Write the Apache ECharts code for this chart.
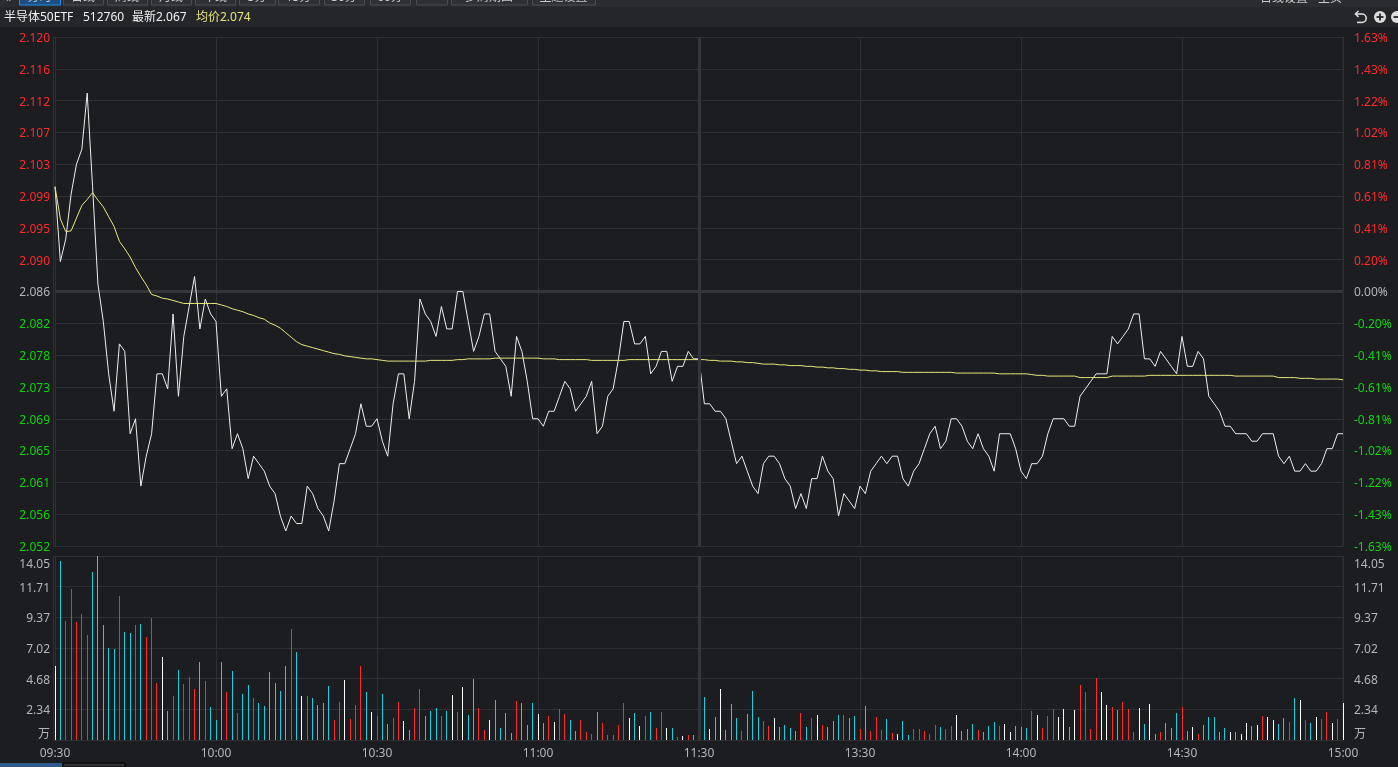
<!DOCTYPE html>
<html>
<head>
<meta charset="utf-8">
<title>半导体50ETF 分时</title>
<script src="https://cdn.jsdelivr.net/npm/echarts@6/dist/echarts.min.js"></script>
<style>
html,body{margin:0;padding:0;background:#1c1d21;overflow:hidden;}
#main{width:1398px;height:767px;}
</style>
</head>
<body>
<div id="main"></div>
<script>
//============================ 数据 =======================================
// 每分钟价格，09:30 - 15:00，共241个点
var price = [
	2.100,2.090,2.093,2.099,2.103,2.105,2.1125,2.100,2.087,2.082,
	2.075,2.070,2.079,2.078,2.067,2.069,2.060,2.064,2.067,2.075,
	2.075,2.073,2.083,2.072,2.080,2.084,2.088,2.081,2.085,2.083,
	2.082,2.072,2.073,2.065,2.067,2.065,2.061,2.064,2.063,2.062,
	2.060,2.059,2.056,2.054,2.056,2.055,2.055,2.060,2.059,2.057,
	2.056,2.054,2.058,2.063,2.063,2.065,2.067,2.071,2.068,2.068,
	2.069,2.066,2.064,2.071,2.075,2.075,2.069,2.074,2.085,2.083,
	2.082,2.080,2.084,2.081,2.081,2.086,2.086,2.082,2.078,2.080,
	2.083,2.083,2.078,2.077,2.076,2.072,2.080,2.078,2.074,2.069,
	2.069,2.068,2.070,2.070,2.072,2.074,2.073,2.070,2.071,2.072,
	2.074,2.067,2.068,2.072,2.073,2.077,2.082,2.082,2.079,2.079,
	2.080,2.075,2.076,2.078,2.078,2.074,2.076,2.076,2.078,2.077,
	2.077,2.071,2.071,2.070,2.070,2.069,2.066,2.063,2.064,2.062,
	2.060,2.059,2.063,2.064,2.064,2.063,2.061,2.060,2.057,2.059,
	2.057,2.061,2.061,2.064,2.062,2.061,2.056,2.059,2.058,2.057,
	2.060,2.059,2.062,2.063,2.064,2.063,2.064,2.064,2.061,2.060,
	2.062,2.063,2.065,2.067,2.068,2.065,2.066,2.069,2.069,2.068,
	2.066,2.065,2.067,2.065,2.064,2.062,2.067,2.067,2.067,2.065,
	2.062,2.061,2.063,2.063,2.064,2.067,2.069,2.069,2.069,2.068,
	2.068,2.072,2.073,2.074,2.075,2.075,2.075,2.080,2.079,2.080,
	2.081,2.083,2.083,2.077,2.077,2.076,2.078,2.077,2.076,2.075,
	2.080,2.076,2.076,2.078,2.077,2.072,2.071,2.070,2.068,2.068,
	2.067,2.067,2.067,2.066,2.066,2.067,2.067,2.067,2.064,2.063,
	2.064,2.062,2.062,2.063,2.062,2.062,2.063,2.065,2.065,2.067,
	2.067
];
// 均价
var avgPrice = [
	2.1000,2.0957,2.0940,2.0941,2.0958,2.0975,2.0983,2.0992,2.0982,2.0973,
	2.0960,2.0947,2.0927,2.0917,2.0906,2.0892,2.0880,2.0869,2.0856,2.0854,
	2.0851,2.0850,2.0848,2.0846,2.0844,2.0844,2.0844,2.0844,2.0844,2.0844,
	2.0844,2.0842,2.0840,2.0837,2.0835,2.0833,2.0830,2.0828,2.0825,2.0823,
	2.0818,2.0815,2.0811,2.0805,2.0799,2.0793,2.0789,2.0787,2.0785,2.0783,
	2.0781,2.0779,2.0777,2.0776,2.0774,2.0773,2.0772,2.0771,2.0770,2.0770,
	2.0769,2.0768,2.0767,2.0767,2.0767,2.0767,2.0767,2.0767,2.0767,2.0767,
	2.0768,2.0768,2.0768,2.0768,2.0768,2.0769,2.0769,2.0770,2.0770,2.0770,
	2.0770,2.0770,2.0771,2.0771,2.0771,2.0771,2.0771,2.0771,2.0771,2.0771,
	2.0771,2.0770,2.0770,2.0770,2.0769,2.0769,2.0769,2.0769,2.0769,2.0769,
	2.0768,2.0768,2.0768,2.0768,2.0768,2.0768,2.0768,2.0769,2.0769,2.0769,
	2.0769,2.0769,2.0769,2.0769,2.0769,2.0769,2.0769,2.0769,2.0769,2.0769,
	2.0769,2.0769,2.0768,2.0768,2.0767,2.0767,2.0767,2.0766,2.0766,2.0765,
	2.0765,2.0764,2.0763,2.0763,2.0763,2.0762,2.0762,2.0761,2.0761,2.0761,
	2.0760,2.0760,2.0759,2.0759,2.0758,2.0758,2.0757,2.0757,2.0756,2.0756,
	2.0755,2.0755,2.0754,2.0754,2.0753,2.0753,2.0753,2.0753,2.0752,2.0752,
	2.0752,2.0752,2.0752,2.0752,2.0752,2.0752,2.0752,2.0752,2.0751,2.0751,
	2.0751,2.0751,2.0751,2.0751,2.0751,2.0751,2.0750,2.0750,2.0750,2.0750,
	2.0750,2.0750,2.0749,2.0748,2.0748,2.0747,2.0747,2.0747,2.0747,2.0747,
	2.0747,2.0745,2.0745,2.0745,2.0745,2.0745,2.0745,2.0747,2.0747,2.0747,
	2.0747,2.0747,2.0747,2.0747,2.0748,2.0748,2.0748,2.0748,2.0748,2.0748,
	2.0748,2.0748,2.0748,2.0748,2.0748,2.0748,2.0748,2.0748,2.0748,2.0748,
	2.0747,2.0747,2.0747,2.0747,2.0747,2.0747,2.0747,2.0747,2.0745,2.0745,
	2.0745,2.0745,2.0744,2.0744,2.0744,2.0743,2.0743,2.0743,2.0743,2.0743,
	2.0742
];
// 成交量（万）
var volume = [
	5.65,13.67,9.09,11.50,9.01,9.62,8.02,12.83,14.05,8.78,
	7.02,6.95,11.00,8.25,8.17,8.78,8.86,7.86,9.32,4.35,
	6.34,2.21,3.36,5.34,4.28,4.81,3.89,5.96,4.50,2.52,
	1.53,5.96,3.66,5.27,2.06,3.51,4.20,3.21,2.83,2.60,
	5.19,4.35,3.74,5.65,8.48,6.72,3.36,3.36,3.21,2.67,
	2.83,4.12,1.53,2.90,4.58,1.60,2.67,5.65,3.66,2.14,
	1.83,3.51,1.22,1.68,2.90,1.45,0.76,2.44,3.89,1.83,
	2.21,2.44,1.83,2.21,3.44,2.14,4.05,1.91,4.66,2.44,
	0.76,1.53,3.05,0.92,2.06,0.53,2.98,2.82,1.15,2.82,
	1.98,1.30,1.83,1.37,2.37,1.98,1.53,0.69,1.53,0.61,
	0.46,2.14,1.30,0.38,0.38,1.15,2.82,1.68,2.06,1.07,
	1.83,2.14,0.92,2.14,0.92,0.92,0.23,0.31,0.38,0.38,
	0.46,3.28,0.84,1.76,3.89,0.76,2.75,1.68,0.69,1.98,
	3.74,1.76,1.45,1.07,1.68,0.99,1.15,0.92,0.69,2.06,
	0.99,1.68,1.91,1.15,0.99,1.45,1.91,1.91,1.68,1.83,
	0.84,2.60,0.69,1.76,0.76,1.60,0.53,0.46,1.45,0.38,
	0.84,0.84,0.69,0.46,1.15,0.99,0.84,1.07,1.91,0.69,
	0.84,1.22,0.76,0.61,1.07,1.37,1.07,1.22,0.61,1.07,
	0.99,0.92,2.21,1.91,0.92,1.83,2.37,1.76,2.37,0.99,
	2.29,4.20,3.66,0.84,4.73,3.66,2.67,2.52,2.29,2.90,
	2.37,0.61,2.44,1.22,2.75,0.46,0.61,1.30,0.92,2.06,
	2.52,0.69,0.99,0.46,1.15,1.76,1.76,0.61,0.92,0.61,
	0.61,0.46,1.30,1.07,1.15,1.83,1.76,1.53,1.22,1.68,
	1.37,3.21,3.05,1.53,1.30,1.76,1.60,2.14,1.30,1.60,
	2.82
];
var timeLabels = ['09:30','10:00','10:30','11:00','11:30','13:30','14:00','14:30','15:00'];
var preClose = 2.086;
var priceTicks = [2.052,2.05625,2.0605,2.06475,2.069,2.07325,2.0775,2.08175,2.086,2.09025,2.0945,2.09875,2.103,2.10725,2.1115,2.11575,2.12];
var priceLabels = ['2.052','2.056','2.061','2.065','2.069','2.073','2.078','2.082','2.086','2.090','2.095','2.099','2.103','2.107','2.112','2.116','2.120'];
var pctLabels = ['-1.63%','-1.43%','-1.22%','-1.02%','-0.81%','-0.61%','-0.41%','-0.20%','0.00%','0.20%','0.41%','0.61%','0.81%','1.02%','1.22%','1.43%','1.63%'];
var volTicks = [0,2.34,4.68,7.02,9.37,11.71,14.05];
// “万”不在网格线上，单独放一个标签值
var volLabelTicks = [0.5,2.34,4.68,7.02,9.37,11.71,14.05];
var volLabels = ['万','2.34','4.68','7.02','9.37','11.71','14.05'];
// 顶部按钮（只露出下沿）
var toolButtons = [
	['分时',19,41],['日线',63,40],['周线',107,40],['月线',151,40],['年线',195,40],['5分',239,36],
	['15分',278,41],['30分',324,40],['60分',370,40],['',416,31],['多周期图',451,76],['主题设置',532,63]
];

//============================ 颜色 =======================================
var BG = '#1c1d21', BAR1 = '#2b2c30', BAR2 = '#25262a', GRID = '#2f3035', AXIS = '#b3b5ba';
var RED = '#ff2b2b', GREEN = '#0bd60b', CYAN = '#14d0e0', FONT = '"Noto Sans","Noto Sans CJK SC",sans-serif';

var times = [];
var preLine = [];
var volData = [];
for (var i = 0; i < price.length; i++) {
	times.push(i % 30 === 0 ? timeLabels[i / 30] : 't' + i);
	preLine.push(preClose);
	volData.push([i, volume[i]]);
}
function isTick(index) {
	return index % 30 === 0;
}
function barColor(index) {
	if (index === 0 || price[index] === price[index - 1]) return '#ffffff';
	return price[index] > price[index - 1] ? RED : CYAN;
}
function priceColor(value) {
	var v = parseFloat(value);
	if (Math.abs(v - preClose) < 1e-6) return AXIS;
	return v > preClose ? RED : GREEN;
}
// 成交量柱：1像素宽，对齐到整像素
function renderVolBar(params, api) {
	var top = api.coord([api.value(0), api.value(1)]);
	var base = api.coord([api.value(0), 0]);
	return {
		type: 'rect',
		shape: {x: Math.floor(top[0]), y: Math.round(top[1]), width: 1, height: Math.round(base[1]) - Math.round(top[1])},
		style: {fill: barColor(params.dataIndex)}
	};
}

//============================ 顶部条、底部标签 =============================
var iconLine = {fill:'none', stroke:'#dddddd', lineWidth:1.6};
var iconDark = {fill:'none', stroke:BAR2, lineWidth:1.8};
var graphics = [
	{type:'rect', silent:true, z:-1, shape:{x:0,y:0,width:1398,height:7}, style:{fill:BAR1}},
	{type:'rect', silent:true, z:-1, shape:{x:0,y:7,width:1398,height:20}, style:{fill:BAR2}},
	{type:'rect', silent:true, z:-1, shape:{x:53.5,y:37.5,width:1289.5,height:509}, style:{fill:'none',stroke:GRID,lineWidth:1}},
	{type:'rect', silent:true, z:-1, shape:{x:53.5,y:556.5,width:1289.5,height:184}, style:{fill:'none',stroke:GRID,lineWidth:1}},
	{type:'rect', silent:true, shape:{x:0,y:763,width:62,height:4}, style:{fill:'#2e5b8e'}},
	{type:'rect', silent:true, shape:{x:63,y:763,width:62,height:4}, style:{fill:'#303135',stroke:'#000',lineWidth:1}},
	{type:'text', silent:true, style:{x:5,y:-1,text:'«',fill:'#aaa',font:'12px '+FONT,verticalAlign:'middle'}},
	{type:'text', silent:true, style:{x:1260,y:-1,text:'日线设置',fill:'#c8c8c8',font:'12px '+FONT,verticalAlign:'middle'}},
	{type:'text', silent:true, style:{x:1318,y:-1,text:'主页',fill:'#c8c8c8',font:'12px '+FONT,verticalAlign:'middle'}},
	{type:'polyline', silent:true, shape:{points:[[1358.5,11],[1355.5,14],[1358.5,17]]}, style:iconLine},
	{type:'polyline', silent:true, shape:{points:[[1356,14],[1362,14]]}, style:iconLine},
	{type:'arc', silent:true, shape:{cx:1362,cy:18.2,r:4.2,startAngle:-Math.PI/2,endAngle:Math.PI/2}, style:iconLine},
	{type:'polyline', silent:true, shape:{points:[[1362,22.4],[1357,22.4]]}, style:iconLine},
	{type:'circle', silent:true, shape:{cx:1380,cy:17,r:6}, style:{fill:'#dddddd'}},
	{type:'polyline', silent:true, shape:{points:[[1376.5,17],[1383.5,17]]}, style:iconDark},
	{type:'polyline', silent:true, shape:{points:[[1380,13.5],[1380,20.5]]}, style:iconDark},
	{type:'circle', silent:true, shape:{cx:1397,cy:17,r:6}, style:{fill:'#dddddd'}},
	{type:'polyline', silent:true, shape:{points:[[1393.5,17],[1398,17]]}, style:iconDark},
	{type:'text', silent:true, style:{x:4,y:18,text:'半导体50ETF',fill:'#f2f2f2',font:'12px '+FONT,verticalAlign:'middle'}},
	{type:'text', silent:true, style:{x:83,y:18,text:'512760',fill:'#f2f2f2',font:'12px '+FONT,verticalAlign:'middle'}},
	{type:'text', silent:true, style:{x:132,y:18,text:'最新'+price[price.length-1].toFixed(3),fill:'#f2f2f2',font:'12px '+FONT,verticalAlign:'middle'}},
	{type:'text', silent:true, style:{x:196,y:18,text:'均价'+avgPrice[avgPrice.length-1].toFixed(3),fill:'#e6e67a',font:'12px '+FONT,verticalAlign:'middle'}}
];
toolButtons.forEach(function(b, idx){
	graphics.push({type:'rect', silent:true, shape:{x:b[1]+0.5,y:-15,width:b[2],height:20},
		style:{fill: idx === 0 ? '#1d4f86' : '#2f3034', stroke: idx === 0 ? '#1e8fe6' : '#4b4c51', lineWidth:1}});
	graphics.push({type:'text', silent:true, style:{x:b[1]+b[2]/2,y:-2,text:b[0],fill:'#c8c8c8',font:'12px '+FONT,align:'center',verticalAlign:'middle'}});
});

//============================ 图表 =======================================
var gridLine = {show:true, lineStyle:{color:GRID, width:1}};
// 标签整体下移一点：底对齐 + 负的下内边距
var LABEL_PAD = [3, 0, -7.5, 0];
var myChart = echarts.init(document.getElementById('main'));
var option = {
	animation: false,
	backgroundColor: BG,
	textStyle: {fontFamily: FONT},
	graphic: graphics,
	grid: [
		{left:55, top:37, width:1288, height:509},
		{left:55, top:556, width:1288, height:184}
	],
	xAxis: [
		{type:'category', gridIndex:0, data:times, boundaryGap:false, axisLine:{show:false}, axisTick:{show:false},
			axisLabel:{show:false}, splitLine:{show:true, interval:isTick, lineStyle:{color:GRID}}},
		{type:'category', gridIndex:1, data:times, boundaryGap:false, axisLine:{show:false}, axisTick:{show:false},
			axisLabel:{show:true, interval:isTick, color:AXIS, fontSize:12, margin:8, fontFamily:FONT},
			splitLine:{show:true, interval:isTick, lineStyle:{color:GRID}}}
	],
	yAxis: [
		{type:'value', gridIndex:0, position:'left', min:2.052, max:2.12, axisLine:{show:false}, axisTick:{show:false, customValues:priceTicks},
			splitLine:gridLine,
			axisLabel:{customValues:priceTicks, margin:5, fontSize:12, fontFamily:FONT, color:priceColor, verticalAlign:'bottom', padding:LABEL_PAD,
				formatter:function(v){ return priceLabels[priceTicks.indexOf(v)]; }}},
		{type:'value', gridIndex:0, position:'right', min:2.052, max:2.12, axisLine:{show:false}, axisTick:{show:false, customValues:priceTicks},
			splitLine:{show:false},
			axisLabel:{customValues:priceTicks, margin:11, fontSize:12, fontFamily:FONT, color:priceColor, verticalAlign:'bottom', padding:LABEL_PAD,
				formatter:function(v){ return pctLabels[priceTicks.indexOf(v)]; }}},
		{type:'value', gridIndex:1, position:'left', min:0, max:14.05, axisLine:{show:false}, axisTick:{show:false, customValues:volTicks},
			splitLine:gridLine,
			axisLabel:{customValues:volLabelTicks, margin:5, fontSize:12, fontFamily:FONT, color:AXIS, verticalAlign:'bottom', padding:LABEL_PAD,
				verticalAlignMaxLabel:'top',
				formatter:function(v){ return volLabels[volLabelTicks.indexOf(v)]; }}},
		{type:'value', gridIndex:1, position:'right', min:0, max:14.05, axisLine:{show:false}, axisTick:{show:false, customValues:volTicks},
			splitLine:{show:false},
			axisLabel:{customValues:volLabelTicks, margin:11, fontSize:12, fontFamily:FONT, color:AXIS, verticalAlign:'bottom', padding:LABEL_PAD,
				verticalAlignMaxLabel:'top',
				formatter:function(v){ return volLabels[volLabelTicks.indexOf(v)]; }}}
	],
	series: [
		// 昨收线
		{name:'昨收', type:'line', xAxisIndex:0, yAxisIndex:0, data:preLine, showSymbol:false, silent:true, z:1,
			lineStyle:{color:'#35363b', width:3},
			markLine:{silent:true, symbol:'none', animation:false, label:{show:false},
				lineStyle:{color:'#35363b', width:3, type:'solid'},
				data:[{xAxis:'11:30'}]}},
		{name:'基准量', type:'line', xAxisIndex:1, yAxisIndex:2, data:[], z:1,
			markLine:{silent:true, symbol:'none', animation:false, label:{show:false},
				lineStyle:{color:'#35363b', width:3, type:'solid'},
				data:[{xAxis:'11:30'}]}},
		{name:'价格', type:'line', xAxisIndex:0, yAxisIndex:0, data:price, showSymbol:false, silent:true, z:3,
			lineStyle:{color:'#eeeeee', width:1}},
		{name:'均价', type:'line', xAxisIndex:0, yAxisIndex:0, data:avgPrice, showSymbol:false, silent:true, z:4,
			lineStyle:{color:'#e8e87c', width:1}},
		{name:'成交量', type:'custom', xAxisIndex:1, yAxisIndex:2, data:volData, renderItem:renderVolBar, silent:true, z:3,
			encode:{x:0, y:1}}
	]
};
myChart.setOption(option);
</script>
</body>
</html>
